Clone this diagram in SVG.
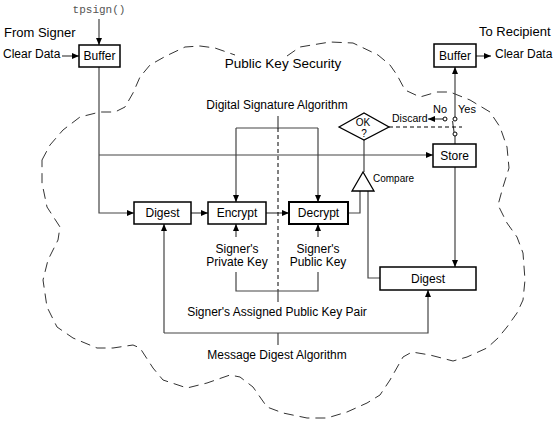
<svg xmlns="http://www.w3.org/2000/svg" width="556" height="426" viewBox="0 0 556 426">
<style>
text{font-family:"Liberation Sans",Arial,sans-serif;fill:#000}
.t12{font-size:12px}
.t13{font-size:13px}
.t11{font-size:11px}
.mid{text-anchor:middle}
.box{fill:#fff;stroke:#000;stroke-width:1.5}
.ln{fill:none;stroke:#444;stroke-width:1.2}
.arr{marker-end:url(#ah)}
.dash{fill:none;stroke:#000;stroke-width:1;stroke-dasharray:4 3}
.cloud{fill:none;stroke:#333;stroke-width:1;stroke-dasharray:10 6;stroke-linejoin:round}
.pin{fill:#fff;stroke:#000;stroke-width:1}
</style>
<defs>
<marker id="ah" markerWidth="7" markerHeight="6" refX="7" refY="3" orient="auto" markerUnits="userSpaceOnUse"><path d="M0,0L7,3L0,6z" fill="#000"/></marker>
</defs>
<rect width="556" height="426" fill="#fff"/>
<g id="cloud">
<path class="cloud" d="M42,160 L50,145 L63,130 L80,117 L100,112 L115,112 L125,107 L133,93 L140,77 L150,65 L166,56 L185,47 L200,46 L215,48 L235,55 M287,56 L300,47 L330,42 L353,43 L378,55 L390,65 L397,75 L405,90 L420,97 L437,92 L450,92 L470,100 L490,112 L500,127 L507,147 L509,168 L503,187 L498,205 L507,223 L517,237 L523,253 L525,280 L523,300 L517,313 L507,327 L498,338 L487,348 L467,357 L453,361 L430,355 L412,352 L403,357 L390,380 L380,395 L367,403 L347,412 L327,418 L307,418 L283,413 L267,407 L253,387 L240,377 L230,375 L207,383 L187,388 L163,380 L153,368 L140,348 L133,345 L113,348 L97,348 L73,338 L57,327 L47,307 L43,280 L48,260 L58,240 L60,227 L47,207 L42,183 L42,160"/>
</g>
<g id="labels">
<text x="99" y="13" style="font-family:'Liberation Mono','Courier New',monospace;font-size:11px;fill:#555" class="mid">tpsign()</text>
<text x="4" y="37" class="t13">From Signer</text>
<text x="3" y="58" class="t12">Clear Data</text>
<text x="479" y="36" class="t13">To Recipient</text>
<text x="495" y="58" class="t12">Clear Data</text>
<text x="283" y="68" style="font-size:13.5px" class="mid">Public Key Security</text>
<text x="277" y="109" class="t12 mid">Digital Signature Algorithm</text>
<text x="237" y="253" class="t12 mid">Signer's</text>
<text x="237" y="266" class="t12 mid">Private Key</text>
<text x="318" y="253" class="t12 mid">Signer's</text>
<text x="318" y="266" class="t12 mid">Public Key</text>
<text x="277" y="316" class="t12 mid">Signer's Assigned Public Key Pair</text>
<text x="277" y="359" class="t12 mid">Message Digest Algorithm</text>
<text x="373" y="182" style="font-size:10px">Compare</text>
<text x="392" y="122" style="font-size:10.5px">Discard</text>
<text x="433" y="113" class="t11">No</text>
<text x="458" y="113" class="t11">Yes</text>
</g>
<g id="connectors">
<path class="ln arr" d="M99,19 V45"/>
<path class="ln arr" d="M62,56 H79"/>
<path class="ln arr" d="M99,67 V213 H134"/>
<path class="ln arr" d="M99,155 H433"/>
<path class="ln arr" d="M191,213 H208"/>
<path class="ln arr" d="M266,213 H289"/>
<path class="ln" d="M236,128 H318 M278,116 V128"/>
<path class="ln arr" d="M236,128 V202"/>
<path class="ln arr" d="M318,128 V202"/>
<path fill="none" stroke="#000" stroke-width="1" stroke-dasharray="4 3" d="M278,128 V291"/>
<path class="ln arr" d="M236,237 V224"/>
<path class="ln arr" d="M318,237 V224"/>
<path class="ln" d="M236,272 V291 H318 V272 M278,291 V302"/>
<path class="ln arr" d="M164,333 V224"/>
<path class="ln arr" d="M164,333 H428 V290"/>
<path class="ln" d="M278,333 V345"/>
<path class="ln" d="M348,213 H360 V191"/>
<path class="ln" d="M380,278 H368 V191"/>
<path class="ln" d="M364,172 V140"/>
<path class="ln arr" d="M455,167 V267"/>
<path class="ln" d="M455,144 V136"/>
<path class="ln" d="M454,132 L452.5,121"/>
<path class="ln arr" d="M455,117 V67"/>
<path class="ln arr" d="M443,119 H428"/>
<path class="dash" d="M389,127 H462"/>
<path class="ln arr" d="M476,56 H491"/>
<circle class="pin" cx="455" cy="134" r="2"/>
<circle class="pin" cx="455" cy="119" r="2"/>
<circle class="pin" cx="445" cy="119" r="2"/>
</g>
<g id="buffer-in"><rect class="box" x="79" y="45" width="41" height="22"/><text x="99.5" y="60" class="t12 mid">Buffer</text></g>
<g id="digest-sign"><rect class="box" x="134" y="202" width="57" height="22"/><text x="162.5" y="217" class="t12 mid">Digest</text></g>
<g id="encrypt"><rect class="box" x="208" y="202" width="58" height="22"/><text x="237" y="217" class="t12 mid">Encrypt</text></g>
<g id="decrypt"><rect class="box" x="289" y="202" width="59" height="22" style="stroke-width:2"/><text x="318.5" y="217" class="t12 mid">Decrypt</text></g>
<g id="ok"><polygon class="box" style="stroke-width:1.3" points="339,127 364,113 389,127 364,140"/><text x="363" y="125.5" style="font-size:10px" class="mid">OK</text><text x="364" y="137" style="font-size:10px" class="mid">?</text></g>
<g id="compare"><polygon class="box" style="stroke-width:1.3" points="363,172 352,191 374,191"/></g>
<g id="store"><rect class="box" x="433" y="144" width="43" height="23"/><text x="454.5" y="160" class="t12 mid">Store</text></g>
<g id="buffer-out"><rect class="box" x="434" y="44" width="42" height="23"/><text x="455" y="60" class="t12 mid">Buffer</text></g>
<g id="digest-verify"><rect class="box" x="380" y="267" width="96" height="23"/><text x="428" y="283" class="t12 mid">Digest</text></g>
</svg>
